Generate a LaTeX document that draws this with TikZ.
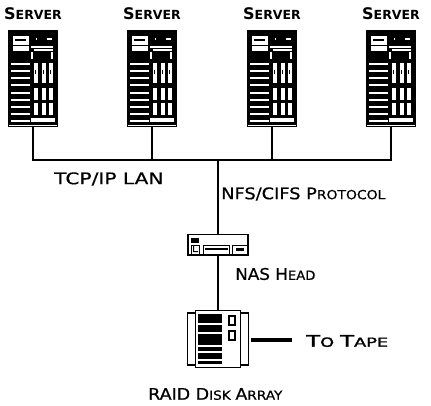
\documentclass[tikz,border=0pt]{standalone}
\usepackage{fontspec}
\setmainfont{DejaVu Sans}
\newfontfamily\labelfont[FakeBold=0.6]{DejaVu Sans}
\newfontfamily\tapefont[FakeBold=1.6]{DejaVu Sans}
\usetikzlibrary{positioning}
\newcommand{\sccap}[2]{{\fontsize{12pt}{14pt}\selectfont #1}{\fontsize{9.4pt}{12pt}\selectfont #2}}
\tikzset{
    rack node/.style={draw,fill=black,line width=0.9pt,minimum width=36pt,minimum height=72pt,inner sep=0pt},
    wing node/.style={draw,fill=white,line width=1pt,inner sep=0pt},
    slot/.style={fill=white,draw=none},
    label node/.style={inner sep=0pt},
    text node/.style={inner sep=0pt,font=\labelfont},
    link/.style={line width=1pt}
}
\begin{document}
\begin{tikzpicture}[x=0.75pt,y=-0.75pt]
    \useasboundingbox (0,0) rectangle (431,406);

    % servers
    \foreach \name/\px in {a/33,b/152,c/272,d/391}{
        \node[rack node] at (\px,78.5) (\name) {};
        \node[label node] at (\px,14) (\name text) {\textbf{\sccap{S}{ERVER}}};
        \begin{scope}[shift={(\px-24,30)}]
            \fill[white] (4,6) rectangle (20,21);
            \fill[black] (6,9) rectangle (17,11);
            \fill[black] (4,15) rectangle (20,16);
            \foreach \sy in {33,40,47,54,62,69,76,83,90}{
                \fill[slot] (2,\sy) rectangle (21,\sy+2);
            }
            \fill[slot] (22,16) rectangle (44,18);
            \fill[slot] (25,19) rectangle (44,21);
            \fill[slot] (22,22) rectangle (24,29);
            \fill[slot] (42,22) rectangle (44,29);
            \fill[slot] (27,8) rectangle (28,10);
            \fill[slot] (38,8) rectangle (43,10);
            \foreach \sx in {25,33,40}{
                \fill[slot] (\sx,33) rectangle (\sx+4,53);
                \fill[black] (\sx+1,40) rectangle (\sx+2,44);
                \fill[slot] (\sx,58) rectangle (\sx+4,70);
                \fill[slot] (\sx,73) rectangle (\sx+4,85);
            }
            \fill[slot] (22,88) rectangle (46,92);
            \fill[slot] (0,95) rectangle (48,96);
        \end{scope}
    }

    % nas head
    \node[draw,fill=white,line width=1pt,minimum width=45pt,minimum height=15.5pt,inner sep=0pt] at (218,244.5) (head) {};
    \fill[black] (191,238) rectangle (199,243);
    \draw[line width=0.5pt] (191,245) rectangle (199,254);
    \draw[line width=0.5pt] (203,245) rectangle (229,254);
    \draw[line width=0.5pt] (232,245) rectangle (248,254);
    \fill[black] (193,246) rectangle (194,252) (194,251) rectangle (198,252);
    \fill[black] (205,248) rectangle (228,250);
    \fill[black] (236,248) rectangle (244,251);

    % disk array
    \node[wing node,minimum width=46pt,minimum height=39pt] at (218,339) (wings) {};
    \node[wing node,minimum width=34pt,minimum height=43pt] at (218,339) (disk) {};
    \fill[black] (198,314) rectangle (222,364);
    \foreach \sy in {323,332,345,351,359}{
        \fill[white] (198,\sy) rectangle (222,\sy+2);
    }
    \draw[line width=0.9pt] (229,316) rectangle (235,325);
    \draw[line width=0.9pt] (229,331) rectangle (235,340);

    \coordinate (junction) at (218,160);
    \coordinate (tape end) at (292,340);
    \coordinate (tape start) at (251,340);
    \draw[link] (a.south) |- (d.south |- junction) -- (d.south);
    \draw[link] (b.south) -- (b.south |- junction);
    \draw[link] (c.south) -- (c.south |- junction);
    \draw[link] (junction) -- (head.north);
    \draw[link] (head.south) -- (disk.north);
    \draw[line width=2.4pt] (tape start) -- (tape end);

    \node[text node,anchor=west] at (54,179) (lan) {\scalebox{1.26}[1]{\sccap{TCP/IP LAN}{}}};
    \node[text node,anchor=west] at (221,194) (proto) {\scalebox{1.11}[1]{\sccap{NFS/CIFS P}{ROTOCOL}}};
    \node[text node,anchor=west] at (235,274) (nas) {\scalebox{1.05}[1]{\sccap{NAS H}{EAD}}};
    \node[text node,anchor=west,font=\tapefont] at (306,341) (tape) {\scalebox{1.42}[1]{\sccap{T}{O} \sccap{T}{APE}}};
    \node[text node,anchor=west] at (148,394) (raid) {\scalebox{1.09}[1]{\sccap{RAID D}{ISK} \sccap{A}{RRAY}}};
\end{tikzpicture}
\end{document}
